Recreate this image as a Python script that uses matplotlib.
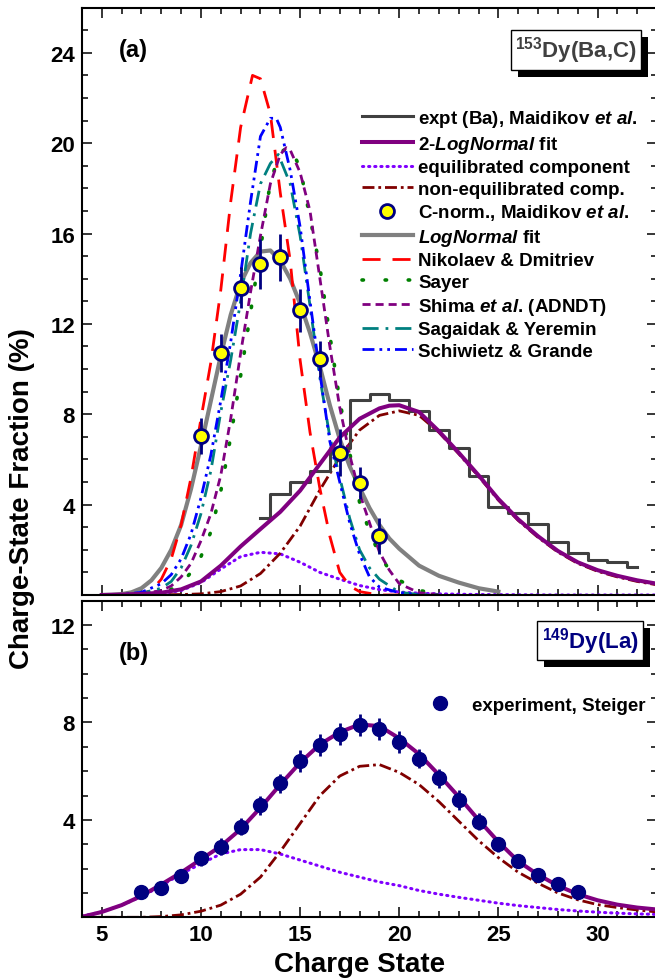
import matplotlib
matplotlib.use('Agg')
import matplotlib.pyplot as plt
from matplotlib.lines import Line2D
from matplotlib.patches import Rectangle
from matplotlib.ticker import MultipleLocator
from matplotlib.transforms import IdentityTransform

plt.rcParams['font.family'] = 'Liberation Sans'
plt.rcParams['font.weight'] = 'bold'
plt.rcParams['mathtext.fontset'] = 'custom'
plt.rcParams['mathtext.rm'] = 'Liberation Sans:bold'
plt.rcParams['mathtext.it'] = 'Liberation Sans:italic:bold'
plt.rcParams['mathtext.bf'] = 'Liberation Sans:bold'

# ---------------- panel (a): 153Dy(Ba,C) ----------------
hist_q = list(range(13, 33))
hist_v = [3.4, 4.45, 5.0, 5.5, 6.5, 8.65, 8.9, 8.65, 8.15, 7.3,
          6.5, 5.25, 3.9, 3.65, 3.15, 2.35, 1.85, 1.55, 1.45, 1.25]

fit2_q = [5, 6, 7, 8, 9, 10, 11, 12, 13, 14, 15, 16, 17, 18, 19, 19.5, 20,
          21, 22, 23, 24, 25, 26, 27, 28, 29, 30, 31, 32, 33]
fit2_v = [0.0, 0.02, 0.05, 0.1, 0.25, 0.6, 1.3, 2.15, 2.92, 3.68, 4.62, 5.8,
          6.98, 7.8, 8.26, 8.38, 8.4, 8.1, 7.25, 6.3, 5.3, 4.25, 3.35, 2.6,
          1.95, 1.45, 1.1, 0.85, 0.65, 0.5]

eq_q = [5, 6, 7, 8, 9, 10, 11, 12, 13, 14, 15, 16, 17, 18, 19, 20, 21, 22,
        24, 26, 28, 30, 33]
eq_v = [0.0, 0.0, 0.02, 0.06, 0.2, 0.55, 1.15, 1.7, 1.89, 1.82, 1.45, 1.0,
        0.7, 0.42, 0.24, 0.13, 0.08, 0.05, 0.02, 0.01, 0.0, 0.0, 0.0]

neq_q = [5, 6, 7, 8, 9, 10, 11, 12, 13, 14, 15, 16, 17, 18, 19, 20, 21, 22,
         23, 24, 25, 26, 27, 28, 29, 30, 31, 32, 33]
neq_v = [0.0, 0.0, 0.0, 0.01, 0.02, 0.05, 0.15, 0.4, 0.95, 1.85, 3.05, 4.65,
         6.1, 7.3, 7.95, 8.15, 7.95, 7.2, 6.25, 5.25, 4.2, 3.3, 2.55, 1.9,
         1.4, 1.05, 0.8, 0.6, 0.45]

cnorm_q = [10, 11, 12, 13, 14, 15, 16, 17, 18, 19]
cnorm_v = [7.05, 10.7, 13.6, 14.65, 14.95, 12.6, 10.45, 6.3, 4.95, 2.6]
cnorm_e = [0.8, 0.85, 0.9, 1.1, 1.05, 0.95, 0.8, 1.05, 0.7, 0.8]

lgn_q = [5, 5.5, 6, 6.5, 7, 7.5, 8, 8.5, 9, 9.5, 10, 10.5, 11, 11.5, 12,
         12.5, 13, 13.5, 14, 14.5, 15, 15.5, 16, 16.5, 17, 17.5, 18, 18.5,
         19, 19.5, 20, 21, 22, 23, 24, 25]
lgn_v = [0.0, 0.01, 0.04, 0.12, 0.3, 0.65, 1.2, 2.0, 3.1, 4.7, 6.6, 8.6,
         10.6, 12.4, 13.8, 14.7, 15.2, 15.25, 14.8, 14.0, 12.9, 11.6, 10.1,
         8.4, 6.9, 5.7, 4.75, 3.85, 3.1, 2.5, 2.05, 1.3, 0.85, 0.55, 0.3, 0.15]

nik_q = [5, 6, 7, 7.5, 8, 8.5, 9, 9.5, 10, 10.5, 11, 11.5, 12, 12.6, 13,
         13.5, 14, 14.5, 15, 15.5, 16, 16.5, 17, 17.5, 18, 19, 20]
nik_v = [0.0, 0.0, 0.05, 0.2, 0.7, 1.6, 3.1, 5.2, 7.8, 10.3, 13.5, 17.4,
         20.7, 23.0, 22.85, 21.3, 17.8, 14.8, 10.4, 7.2, 4.7, 2.6, 1.0, 0.4,
         0.15, 0.0, 0.0]

say_q = [5, 6, 7, 8, 8.5, 9, 9.5, 10, 10.5, 11, 11.5, 12, 12.5, 13, 13.5,
         14, 14.5, 15, 15.5, 16, 16.5, 17, 17.5, 18, 18.5, 19, 19.5, 20, 21, 22]
say_v = [0.0, 0.0, 0.02, 0.1, 0.25, 0.5, 1.0, 1.7, 2.8, 4.6, 7.0, 9.7, 12.5,
         15.3, 18.3, 19.6, 19.85, 18.9, 16.7, 14.5, 11.5, 8.6, 6.3, 4.1, 2.8,
         1.8, 1.1, 0.65, 0.2, 0.05]

shi_q = [5, 6, 7, 8, 8.5, 9, 9.5, 10, 10.5, 11, 11.5, 12, 12.5, 13, 13.5,
         14, 14.3, 14.5, 15, 15.5, 16, 16.5, 17, 17.5, 18, 18.5, 19, 19.5,
         20, 21, 22]
shi_v = [0.0, 0.0, 0.05, 0.2, 0.4, 0.8, 1.4, 2.4, 3.6, 5.3, 7.8, 10.7, 13.4,
         15.9, 18.2, 19.5, 19.8, 19.7, 18.7, 17.0, 14.0, 11.0, 8.3, 6.2, 4.5,
         3.2, 1.9, 1.1, 0.5, 0.1, 0.02]

sag_q = [5, 6, 7, 8, 8.5, 9, 9.5, 10, 10.5, 11, 11.5, 12, 12.5, 13, 13.5,
         13.9, 14.5, 15, 15.5, 16, 16.5, 17, 17.5, 18, 18.5, 19, 20, 21, 22]
sag_v = [0.0, 0.01, 0.08, 0.3, 0.6, 1.2, 2.2, 3.6, 5.5, 8.1, 10.4, 13.0,
         16.0, 18.2, 19.1, 19.5, 18.2, 15.9, 12.8, 9.6, 7.0, 5.2, 3.4, 2.0,
         1.2, 0.7, 0.12, 0.02, 0.0]

sch_q = [5, 6, 7, 8, 8.5, 9, 9.5, 10, 10.5, 11, 11.5, 12, 12.5, 13, 13.5,
         13.8, 14, 14.5, 15, 15.5, 16, 16.5, 17, 17.5, 18, 18.5, 19, 20, 21]
sch_v = [0.0, 0.02, 0.12, 0.5, 0.9, 1.6, 2.7, 4.3, 6.2, 8.6, 11.2, 14.2,
         17.4, 20.3, 21.1, 21.1, 20.7, 18.8, 16.3, 13.0, 9.8, 6.8, 5.0, 3.2,
         1.8, 0.8, 0.35, 0.1, 0.0]

# ---------------- panel (b): 149Dy(La) ----------------
st_q = list(range(7, 30))
st_v = [1.05, 1.2, 1.7, 2.42, 2.9, 3.71, 4.6, 5.5, 6.42, 7.07, 7.51, 7.88,
        7.72, 7.2, 6.52, 5.7, 4.82, 3.93, 3.0, 2.32, 1.73, 1.36, 1.02]
st_e = [0.15, 0.15, 0.2, 0.3, 0.35, 0.35, 0.4, 0.4, 0.45, 0.45, 0.45, 0.45,
        0.45, 0.45, 0.4, 0.4, 0.4, 0.35, 0.3, 0.25, 0.2, 0.2, 0.15]

b_q = list(range(4, 34))
b_fit2 = [0.02, 0.22, 0.5, 0.88, 1.35, 1.84, 2.38, 2.92, 3.62, 4.5, 5.45,
          6.35, 7.1, 7.6, 7.92, 7.85, 7.35, 6.7, 5.85, 4.95, 4.0, 3.1, 2.3,
          1.75, 1.3, 0.95, 0.7, 0.52, 0.4, 0.32]
b_eq = [0.05, 0.22, 0.5, 0.85, 1.3, 1.78, 2.2, 2.6, 2.78, 2.78, 2.6, 2.35,
        2.1, 1.85, 1.65, 1.45, 1.3, 1.1, 0.95, 0.82, 0.7, 0.58, 0.48, 0.4,
        0.32, 0.26, 0.21, 0.17, 0.14, 0.12]
b_neq = [0.0, 0.0, 0.0, 0.0, 0.03, 0.1, 0.25, 0.5, 0.95, 1.65, 2.7, 3.85,
         5.0, 5.8, 6.2, 6.27, 5.95, 5.45, 4.75, 3.95, 3.15, 2.45, 1.85, 1.4,
         1.0, 0.72, 0.52, 0.4, 0.3, 0.22]

navy = '#000080'
fig = plt.figure(figsize=(6.55, 9.79), dpi=100)
W, H = 655.0, 979.0
ax1 = fig.add_axes([82 / W, (H - 596) / H, 575 / W, 587.4 / H])
ax2 = fig.add_axes([82 / W, (H - 918.3) / H, 575 / W, 316.6 / H])

dot_eq = dict(color='#8000ff', lw=2.2, ls=(0, (0.4, 1.6)), dash_capstyle='round')
dot_say = dict(color='#008000', lw=2.6, ls=(0, (0.4, 6)), dash_capstyle='round')
dd_neq = dict(color='#800000', lw=2, ls=(0, (4.3, 1.4, 1, 1.4)))

# panel (a) curves
ax1.plot(eq_q, eq_v, **dot_eq)
ax1.plot(neq_q, neq_v, **dd_neq)
ax1.plot(lgn_q, lgn_v, color='#808080', lw=3)
ax1.plot(nik_q, nik_v, color='#ff0000', lw=2, ls=(0, (6.5, 4.3)))
ax1.plot(say_q, say_v, **dot_say)
ax1.plot(shi_q, shi_v, color='#800080', lw=2, ls=(0, (2.9, 1.8)))
ax1.plot(sag_q, sag_v, color='#008080', lw=2, ls=(0, (5.8, 2.5, 1, 2.5)))
ax1.plot(sch_q, sch_v, color='#0000ff', lw=2, ls=(0, (4.3, 1.8, 1, 1.8, 1, 1.8)))
ax1.plot(hist_q, hist_v, drawstyle='steps-mid', color='#404040', lw=2.2)
ax1.plot(fit2_q, fit2_v, color='#800080', lw=2.9)
ax1.errorbar(cnorm_q, cnorm_v, yerr=cnorm_e, fmt='o', ms=10, mfc='yellow',
             mec=navy, mew=2, ecolor=navy, elinewidth=2, capsize=0, zorder=5)

handles = [
    Line2D([], [], color='#404040', lw=2.2),
    Line2D([], [], color='#800080', lw=2.9),
    Line2D([], [], **dot_eq),
    Line2D([], [], **dd_neq),
    Line2D([], [], ls='none', marker='o', ms=10, mfc='yellow', mec=navy, mew=2),
    Line2D([], [], color='#808080', lw=3),
    Line2D([], [], color='#ff0000', lw=2, ls=(0, (6.5, 4.3))),
    Line2D([], [], **dot_say),
    Line2D([], [], color='#800080', lw=2, ls=(0, (2.9, 1.8))),
    Line2D([], [], color='#008080', lw=2, ls=(0, (5.8, 2.5, 1, 2.5))),
    Line2D([], [], color='#0000ff', lw=2, ls=(0, (4.3, 1.8, 1, 1.8, 1, 1.8))),
]
labels = [
    r'expt (Ba), Maidikov $et\ al$.',
    r'2-$LogNormal$ fit',
    'equilibrated component',
    'non-equilibrated comp.',
    r'C-norm., Maidikov $et\ al$.',
    r'$LogNormal$ fit',
    'Nikolaev & Dmitriev',
    'Sayer',
    r'Shima $et\ al$. (ADNDT)',
    'Sagaidak & Yeremin',
    'Schiwietz & Grande',
]
ax1.legend(handles, labels, loc='upper left', bbox_to_anchor=(0.487, 0.829),
           frameon=False, fontsize=13.5, handlelength=2.7, handletextpad=0.3,
           labelspacing=0.24, borderaxespad=0, borderpad=0)

# panel (b) curves
ax2.plot(b_q, b_eq, **dot_eq)
ax2.plot(b_q, b_neq, **dd_neq)
ax2.plot(b_q, b_fit2, color='#800080', lw=2.9)
ax2.errorbar(st_q, st_v, yerr=st_e, fmt='o', ms=10, color=navy,
             elinewidth=2, capsize=0, zorder=5)
ax2.legend([Line2D([], [], ls='none', marker='o', ms=10, color=navy)],
           ['experiment, Steiger'], loc='center left',
           bbox_to_anchor=(0.59, 0.67), frameon=False, fontsize=13.5,
           handlelength=2.0, handletextpad=0.7, borderaxespad=0, borderpad=0)

for ax, ymax in ((ax1, 26), (ax2, 13)):
    ax.set_xlim(4, 33)
    ax.set_ylim(0, ymax)
    ax.xaxis.set_major_locator(MultipleLocator(5))
    ax.xaxis.set_minor_locator(MultipleLocator(1))
    ax.yaxis.set_minor_locator(MultipleLocator(1))
    ax.tick_params(which='both', direction='in', top=True, right=True,
                   width=1.1, labelsize=16)
    ax.tick_params(which='major', length=7, pad=5)
    ax.tick_params(which='minor', length=4)
    for s in ax.spines.values():
        s.set_linewidth(1.5)
ax1.set_yticks([4, 8, 12, 16, 20, 24])
ax2.set_yticks([4, 8, 12])
ax1.tick_params(labelbottom=False)

ax1.text(0.09, 0.928, '(a)', transform=ax1.transAxes, fontsize=17,
         ha='center', va='center')
ax2.text(0.09, 0.836, '(b)', transform=ax2.transAxes, fontsize=17,
         ha='center', va='center')

box_kw = dict(boxstyle='square,pad=0.2', fc='white', ec='black', lw=1)
t1 = ax1.text(0.859, 0.928, r'$^{153}$Dy(Ba,C)', transform=ax1.transAxes,
              fontsize=16, color='#404040', ha='center', va='center',
              bbox=box_kw, zorder=6)
t2 = ax2.text(0.884, 0.874, r'$^{149}$Dy(La)', transform=ax2.transAxes,
              fontsize=16, color=navy, ha='center', va='center',
              bbox=box_kw, zorder=6)

fig.text(22 / W, 1 - 499 / H, 'Charge-State Fraction (%)', rotation=90,
         ha='center', va='center', fontsize=20)
fig.text(360 / W, 1 - 965 / H, 'Charge State', ha='center', va='center',
         fontsize=20)

# drop shadows for the label boxes
fig.canvas.draw()
for ax, t in ((ax1, t1), (ax2, t2)):
    bb = t.get_bbox_patch().get_window_extent()
    ax.add_patch(Rectangle((bb.x0 + 7, bb.y0 - 7), bb.width, bb.height,
                           transform=IdentityTransform(), fc='black',
                           ec='none', zorder=5.9))

fig.savefig('out.png', dpi=100)
